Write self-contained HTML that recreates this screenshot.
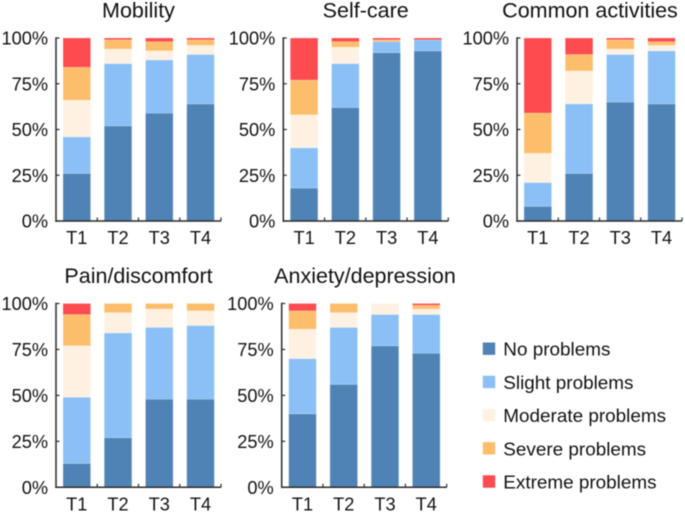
<!DOCTYPE html>
<html lang="en">
<head>
<meta charset="utf-8">
<title>Health dimension problems over time</title>
<style>
  html, body { margin: 0; padding: 0; background: #fff; }
  body { width: 685px; height: 513px; overflow: hidden; }
  svg { display: block; filter: blur(0.45px); }
  text { font-family: "Liberation Sans", sans-serif; fill: #111; }
</style>
</head>
<body>
<svg id="chart" xmlns="http://www.w3.org/2000/svg" width="685" height="513" viewBox="0 0 685 513"></svg>
<script>
const timepoints = ["T1", "T2", "T3", "T4"];
const yTicks = [0, 25, 50, 75, 100];
const severityLevels = ["No problems", "Slight problems", "Moderate problems", "Severe problems", "Extreme problems"];
const severityColors = ["#5083b5", "#8ac0f6", "#fef1e2", "#fdbe6c", "#fd4b4f"];

const mobilityTitle = "Mobility";
const mobilityValues = [
  [26, 20, 20, 18, 16],
  [52, 34, 8, 5, 1],
  [59, 29, 5, 5, 2],
  [64, 27, 5, 3, 1]
];
const selfCareTitle = "Self-care";
const selfCareValues = [
  [18, 22, 18, 19, 23],
  [62, 24, 9, 3, 2],
  [92, 6, 0, 1, 1],
  [93, 6, 0, 0, 1]
];
const commonActivitiesTitle = "Common activities";
const commonActivitiesValues = [
  [8, 13, 16, 22, 41],
  [26, 38, 18, 9, 9],
  [65, 26, 3, 5, 1],
  [64, 29, 3, 2, 2]
];
const painTitle = "Pain/discomfort";
const painValues = [
  [13, 36, 28, 17, 6],
  [27, 57, 11, 5, 0],
  [48, 39, 10, 3, 0],
  [48, 40, 8, 4, 0]
];
const anxietyTitle = "Anxiety/depression";
const anxietyValues = [
  [40, 30, 16, 10, 4],
  [56, 31, 8, 5, 0],
  [77, 17, 6, 0, 0],
  [73, 21, 3, 2, 1]
];

const svg = document.getElementById("chart");
const NS = "http://www.w3.org/2000/svg";

function make(tag, attrs, parent) {
  const el = document.createElementNS(NS, tag);
  for (const k in attrs) el.setAttribute(k, attrs[k]);
  parent.appendChild(el);
  return el;
}
function slug(s) {
  return s.toLowerCase().replace(/[^a-z0-9]+/g, "-");
}

function drawPanel(title, values, axisX, top, bottom, titleX, titleY) {
  const g = make("g", {}, svg);
  
  

  const plotW = 165;
  const step = 41.25;
  const barW = 27.6;
  const firstBar = 7;
  const yScale = v => bottom - (v / 100) * (bottom - top);
  const xBand = i => axisX + firstBar + i * step;

  const t = make("text", { x: titleX, y: titleY, "text-anchor": "middle", "font-size": 21.5 }, g);
  t.textContent = title;
  
  

  values.forEach((row, i) => {
    let cum = 0;
    row.forEach((v, s) => {
      if (v <= 0) return;
      const y1 = yScale(cum + v);
      const y0 = yScale(cum);
      const r = make("rect", {
        x: xBand(i), y: y1, width: barW, height: y0 - y1,
        fill: severityColors[s], stroke: "#ffffff", "stroke-opacity": 0.3, "stroke-width": 0.6
      }, g);
      
      
      cum += v;
    });
  });

  const yAxis = make("line", { x1: axisX, x2: axisX, y1: top - 0.7, y2: bottom + 0.7, stroke: "#2b2b2b", "stroke-width": 1.5 }, g);
  
  
  const xAxis = make("line", { x1: axisX - 0.7, x2: axisX + plotW, y1: bottom, y2: bottom, stroke: "#2b2b2b", "stroke-width": 1.5 }, g);
  
  

  yTicks.forEach(v => {
    const y = yScale(v);
    const tick = make("line", { x1: axisX, x2: axisX + 3.5, y1: y, y2: y, stroke: "#2b2b2b", "stroke-width": 1.2 }, g);
    
    
    const lab = make("text", { x: axisX - 8, y: y + 6.6, "text-anchor": "end", "font-size": 18.2 }, g);
    lab.textContent = v + "%";
    
    
  });

  timepoints.forEach((name, i) => {
    const tx = axisX + (i + 1) * step;
    const tick = make("line", { x1: tx, x2: tx, y1: bottom, y2: bottom - 3.5, stroke: "#2b2b2b", "stroke-width": 1.2 }, g);
    
    
    const lab = make("text", { x: xBand(i) + barW / 2, y: bottom + 23, "text-anchor": "middle", "font-size": 18.2 }, g);
    lab.textContent = name;
    
    
  });
}

drawPanel(mobilityTitle, mobilityValues, 56, 38, 221, 138.5, 17.5);
drawPanel(selfCareTitle, selfCareValues, 283.3, 38, 221, 365.7, 17.5);
drawPanel(commonActivitiesTitle, commonActivitiesValues, 517, 38, 221, 590, 17.5);
drawPanel(painTitle, painValues, 56, 303.5, 487.3, 138.5, 283);
drawPanel(anxietyTitle, anxietyValues, 281.7, 303.5, 487.3, 365, 283);

const legend = make("g", {}, svg);


severityLevels.forEach((name, i) => {
  const cy = 348.7 + i * 33.2;
  const entry = make("g", {}, legend);
  
  
  const sw = make("rect", { x: 482.8, y: cy - 6.2, width: 12.4, height: 12.4, fill: severityColors[i] }, entry);
  
  
  const lab = make("text", { x: 503.3, y: cy + 7, "font-size": 18.9 }, entry);
  lab.textContent = name;
  
  
});
</script>
</body>
</html>
